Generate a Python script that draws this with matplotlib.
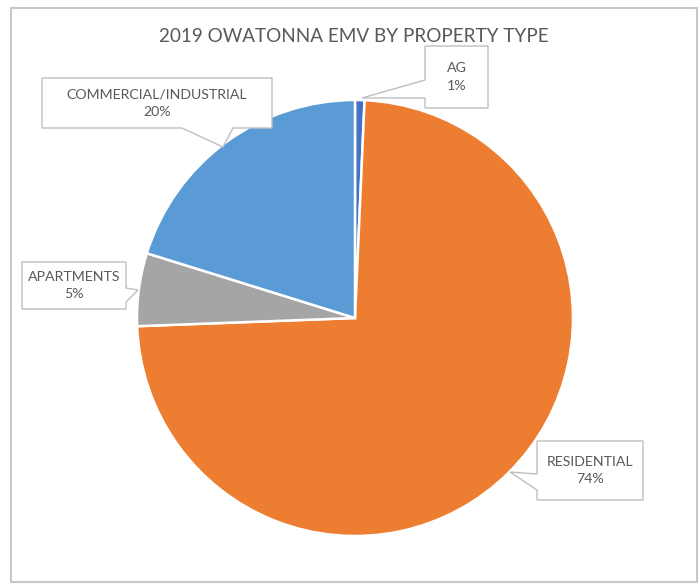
import matplotlib
matplotlib.use("Agg")
import matplotlib.pyplot as plt
from matplotlib.patches import Polygon, Rectangle

plt.rcParams['font.family'] = ['Lato', 'DejaVu Sans']

# share of estimated market value, clockwise from 12 o'clock
categories = ['AG', 'RESIDENTIAL', 'APARTMENTS', 'COMMERCIAL/INDUSTRIAL']
shares = [0.7, 73.7, 5.4, 20.2]
colors = ['#4472C4', '#ED7D31', '#A5A5A5', '#5B9BD5']
title = '2019 OWATONNA EMV BY PROPERTY TYPE'

W, H = 700, 584
text_gray = '#595959'
line_gray = '#BFBFBF'


def flip(pts):
    # image pixel coords (y down) -> axes coords (y up)
    return [(x, H - y) for x, y in pts]


# callout boxes: box corners, the two base points of the pointer and its tip
callouts = {
    'AG': dict(box=(425, 46, 488, 108), base=[(425, 80), (425, 98)], side='left', tip=(362, 98)),
    'RESIDENTIAL': dict(box=(537, 441, 643, 500), base=[(537, 474), (537, 490)], side='left', tip=(510, 472)),
    'APARTMENTS': dict(box=(22, 262, 126, 309), base=[(126, 288), (126, 302)], side='right', tip=(138, 290)),
    'COMMERCIAL/INDUSTRIAL': dict(box=(42, 78, 272, 128), base=[(182, 128), (233, 128)], side='bottom', tip=(223, 147)),
}


def callout_poly(box, base, side, tip):
    x0, y0, x1, y1 = box
    if side == 'left':
        pts = [(x0, y0), (x1, y0), (x1, y1), (x0, y1), base[1], tip, base[0]]
    elif side == 'right':
        pts = [(x0, y0), (x1, y0), base[0], tip, base[1], (x1, y1), (x0, y1)]
    else:
        pts = [(x0, y0), (x1, y0), (x1, y1), base[1], tip, base[0], (x0, y1)]
    return flip(pts)


fig = plt.figure(figsize=(7, 5.84), dpi=100)
ax = fig.add_axes([0, 0, 1, 1])

ax.pie(shares, colors=colors, startangle=90, counterclock=False,
       center=(355, H - 318), radius=218,
       wedgeprops=dict(edgecolor='white', linewidth=1.8))

ax.set_xlim(0, W)
ax.set_ylim(0, H)
ax.set_aspect('equal')
ax.axis('off')

# chart frame
ax.add_patch(Rectangle((11, H - 582), 686, 574, fill=False, edgecolor='#C8C8C8', lw=1.5))

ax.text(354, H - 37, title, ha='center', va='center', fontsize=13.6, color=text_gray)

for cat, val in zip(categories, shares):
    c = callouts[cat]
    ax.add_patch(Polygon(callout_poly(c['box'], c['base'], c['side'], c['tip']),
                         closed=True, facecolor='white', edgecolor=line_gray, lw=1, zorder=5))
    x0, y0, x1, y1 = c['box']
    cx, cy = (x0 + x1) / 2, (y0 + y1) / 2
    ax.text(cx, H - cy, '{}\n{:.0f}%'.format(cat, val), ha='center', va='center',
            fontsize=10.2, color=text_gray, linespacing=1.5, zorder=6)

fig.savefig('out.png', dpi=100, facecolor='white')
